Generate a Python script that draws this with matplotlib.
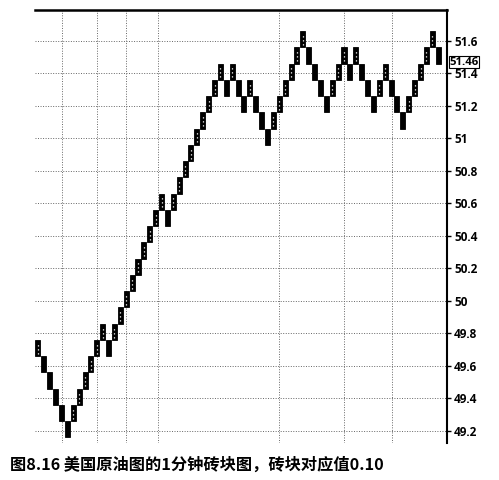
import matplotlib
matplotlib.use("Agg")
import matplotlib.pyplot as plt
from matplotlib.ticker import FuncFormatter

plt.rcParams['font.family'] = ['Noto Sans CJK SC', 'DejaVu Sans']

# Renko bricks (low price of each brick), brick size 0.10
brick_size = 0.10
brick_lows = [49.66, 49.56, 49.46, 49.36, 49.26, 49.16, 49.26, 49.36, 49.46, 49.56,
              49.66, 49.76, 49.66, 49.76, 49.86, 49.96, 50.06, 50.16, 50.26, 50.36,
              50.46, 50.56, 50.46, 50.56, 50.66, 50.76, 50.86, 50.96, 51.06, 51.16,
              51.26, 51.36, 51.26, 51.36, 51.26, 51.16, 51.26, 51.16, 51.06, 50.96,
              51.06, 51.16, 51.26, 51.36, 51.46, 51.56, 51.46, 51.36, 51.26, 51.16,
              51.26, 51.36, 51.46, 51.36, 51.46, 51.36, 51.26, 51.16, 51.26, 51.36,
              51.26, 51.16, 51.06, 51.16, 51.26, 51.36, 51.46, 51.56, 51.46]
brick_dirs = ['U', 'D', 'D', 'D', 'D', 'D', 'U', 'U', 'U', 'U',
              'U', 'U', 'D', 'U', 'U', 'U', 'U', 'U', 'U', 'U',
              'U', 'U', 'D', 'U', 'U', 'U', 'U', 'U', 'U', 'U',
              'U', 'U', 'D', 'U', 'D', 'D', 'U', 'D', 'D', 'D',
              'U', 'U', 'U', 'U', 'U', 'U', 'D', 'D', 'D', 'D',
              'U', 'U', 'U', 'D', 'U', 'D', 'D', 'D', 'U', 'U',
              'D', 'D', 'D', 'U', 'U', 'U', 'U', 'U', 'D']
y_ticks = [49.2, 49.4, 49.6, 49.8, 50.0, 50.2, 50.4, 50.6, 50.8, 51.0, 51.2, 51.4, 51.6]
time_grid = [4.1, 10.0, 15.0, 20.4, 41.0, 52.0, 60.2]
last_price = 51.46
caption = "图8.16 美国原油图的1分钟砖块图，砖块对应值0.10"

fig = plt.figure(figsize=(4.99, 4.80), dpi=100)
ax = fig.add_axes([35/499, 1-443/480, (447-35)/499, (443-10)/480])

xs = list(range(len(brick_lows)))
ax.bar(xs, [brick_size]*len(xs), bottom=brick_lows, width=0.85,
       color='black', edgecolor='black', linewidth=0.6, zorder=3)
for x, lo, d in zip(xs, brick_lows, brick_dirs):
    if d == 'U':
        ax.plot([x, x], [lo + 0.015, lo + brick_size - 0.015], color='white',
                linestyle=(0, (1, 2.2)), linewidth=0.9, zorder=4)

ax.set_xlim(-0.5, 69.5)
ax.set_ylim(49.126, 51.79)
ax.set_yticks(y_ticks)
ax.set_xticks(time_grid)
ax.tick_params(axis='x', length=0, labelbottom=False)
ax.yaxis.tick_right()
ax.tick_params(axis='y', length=3, width=1, direction='out', pad=2,
               labelsize=8.5, colors='black')
ax.yaxis.set_major_formatter(FuncFormatter(lambda v, p: ('%.1f' % v).rstrip('0').rstrip('.')))
for lab in ax.get_yticklabels():
    lab.set_fontweight('bold')
    lab.set_family(['Open Sans', 'DejaVu Sans'])

ax.grid(True, which='major', color='#666666', linestyle=(0, (1, 1.6)), linewidth=0.7, zorder=1)
ax.spines['left'].set_visible(False)
ax.spines['bottom'].set_visible(False)
ax.spines['top'].set_linewidth(1.8)
ax.spines['right'].set_linewidth(1.5)

ax.text(1.005, last_price + 0.01, "51.46", transform=ax.get_yaxis_transform(),
        va='center', ha='left', fontsize=8.2, fontweight='bold',
        family=['Open Sans', 'DejaVu Sans'],
        bbox=dict(boxstyle='square,pad=0.02', facecolor='white', edgecolor='black', linewidth=0.8),
        zorder=5, clip_on=False)

fig.text(10/499, 1-465/480, caption, fontsize=11.7, fontweight='bold',
         va='center', ha='left')

fig.savefig('out.png', dpi=100)
